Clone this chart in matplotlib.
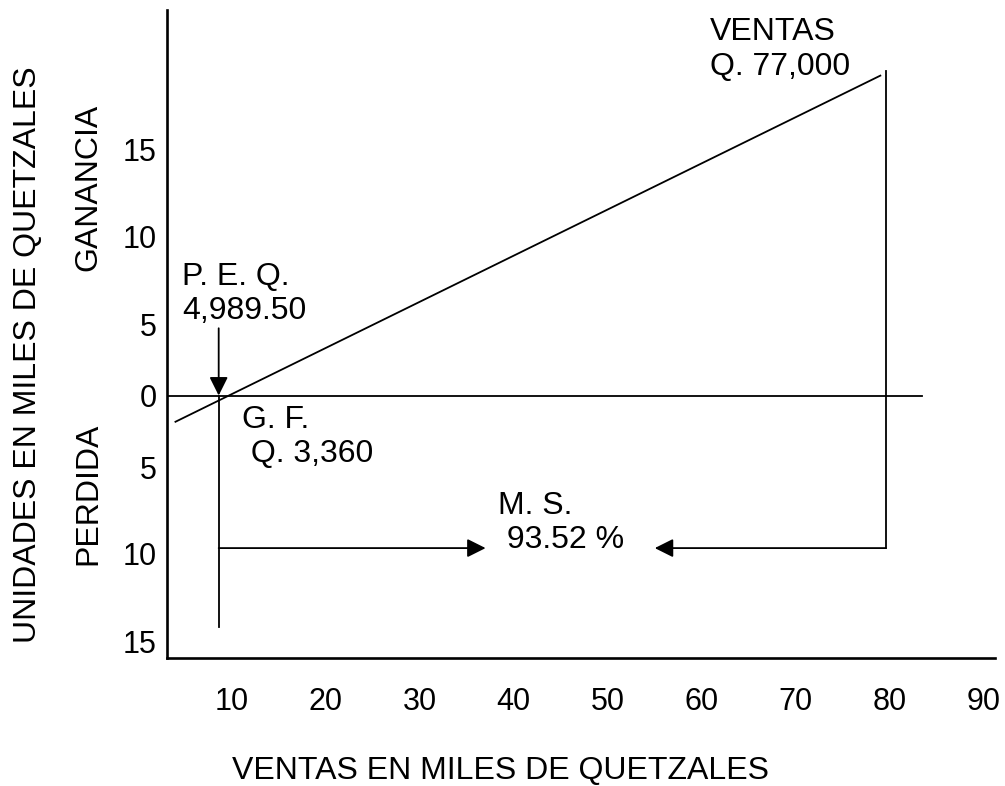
import matplotlib
matplotlib.use("Agg")
import matplotlib.pyplot as plt

plt.rcParams["font.family"] = ["Liberation Sans", "DejaVu Sans"]

# break-even chart data (miles de quetzales)
x_ticks = [10, 20, 30, 40, 50, 60, 70, 80, 90]
y_tick_pos = [15.0, 9.7, 4.3, 0, -4.4, -9.6, -15.0]
y_tick_labels = ["15", "10", "5", "0", "5", "10", "15"]

ventas_x = [4.0, 79.0]
ventas_y = [-1.6, 19.5]

peq_x = 8.6
peq_top = 4.1
peq_bottom = -14.1

ventas_line_x = 79.6
ventas_line_top = 19.8

ms_y = -9.3
ms_right_tip = 37.0
ms_left_tip = 55.0

zero_line_end = 83.4


def main():
    fig = plt.figure(figsize=(10.05, 7.86), dpi=100)
    ax = fig.add_axes([167 / 1005, 1 - 658 / 786, 828 / 1005, 648 / 786])
    ax.set_xlim(3.1, 91.2)
    ax.set_ylim(-16.0, 23.5)

    for side in ["top", "right"]:
        ax.spines[side].set_visible(False)
    for side in ["left", "bottom"]:
        ax.spines[side].set_linewidth(1.9)

    ax.set_xticks(x_ticks)
    ax.set_xticklabels([str(v) for v in x_ticks])
    ax.set_yticks(y_tick_pos)
    ax.set_yticklabels(y_tick_labels)
    ax.tick_params(axis="x", length=0, pad=21, labelsize=22)
    ax.tick_params(axis="y", length=0, pad=7.5, labelsize=22)

    lw = 1.3
    # zero line
    ax.plot([3.1, zero_line_end], [0, 0], color="black", lw=lw)
    # sales line
    ax.plot(ventas_x, ventas_y, color="black", lw=lw)
    # vertical line at break-even point
    ax.plot([peq_x, peq_x], [0, peq_bottom], color="black", lw=lw)
    ax.annotate("", xy=(peq_x, 0), xytext=(peq_x, peq_top),
                arrowprops=dict(arrowstyle="-|>", color="black", lw=lw,
                                mutation_scale=28, shrinkA=0, shrinkB=0))
    # vertical line at sales
    ax.plot([ventas_line_x, ventas_line_x], [ventas_line_top, ms_y],
            color="black", lw=lw)
    # margin of safety arrows
    ax.annotate("", xy=(ms_right_tip, ms_y), xytext=(peq_x, ms_y),
                arrowprops=dict(arrowstyle="-|>", color="black", lw=lw,
                                mutation_scale=28, shrinkA=0, shrinkB=0))
    ax.annotate("", xy=(ms_left_tip, ms_y), xytext=(ventas_line_x, ms_y),
                arrowprops=dict(arrowstyle="-|>", color="black", lw=lw,
                                mutation_scale=28, shrinkA=0, shrinkB=0))

    fs = 23
    ax.text(4.7, 8.15, "P. E. Q.\n4,989.50", fontsize=fs, va="top", ha="left")
    ax.text(11.05, -0.55, "G. F.\n Q. 3,360", fontsize=fs, va="top", ha="left")
    ax.text(60.85, 23.05, "VENTAS\nQ. 77,000", fontsize=fs, va="top", ha="left")
    ax.text(38.3, -5.8, "M. S.\n 93.52 %", fontsize=fs, va="top", ha="left")

    fig.text(500 / 1005, 1 - 771 / 786, "VENTAS EN MILES DE QUETZALES",
             fontsize=23, ha="center", va="center")
    fig.text(28 / 1005, 1 - 355 / 786, "UNIDADES EN MILES DE QUETZALES",
             fontsize=23, ha="center", va="center", rotation=90)
    fig.text(88 / 1005, 1 - 187 / 786, "GANANCIA",
             fontsize=23, ha="center", va="center", rotation=90)
    fig.text(88 / 1005, 1 - 494 / 786, "PERDIDA",
             fontsize=23, ha="center", va="center", rotation=90)

    fig.savefig("out.png", dpi=100, facecolor="white")


if __name__ == "__main__":
    main()
